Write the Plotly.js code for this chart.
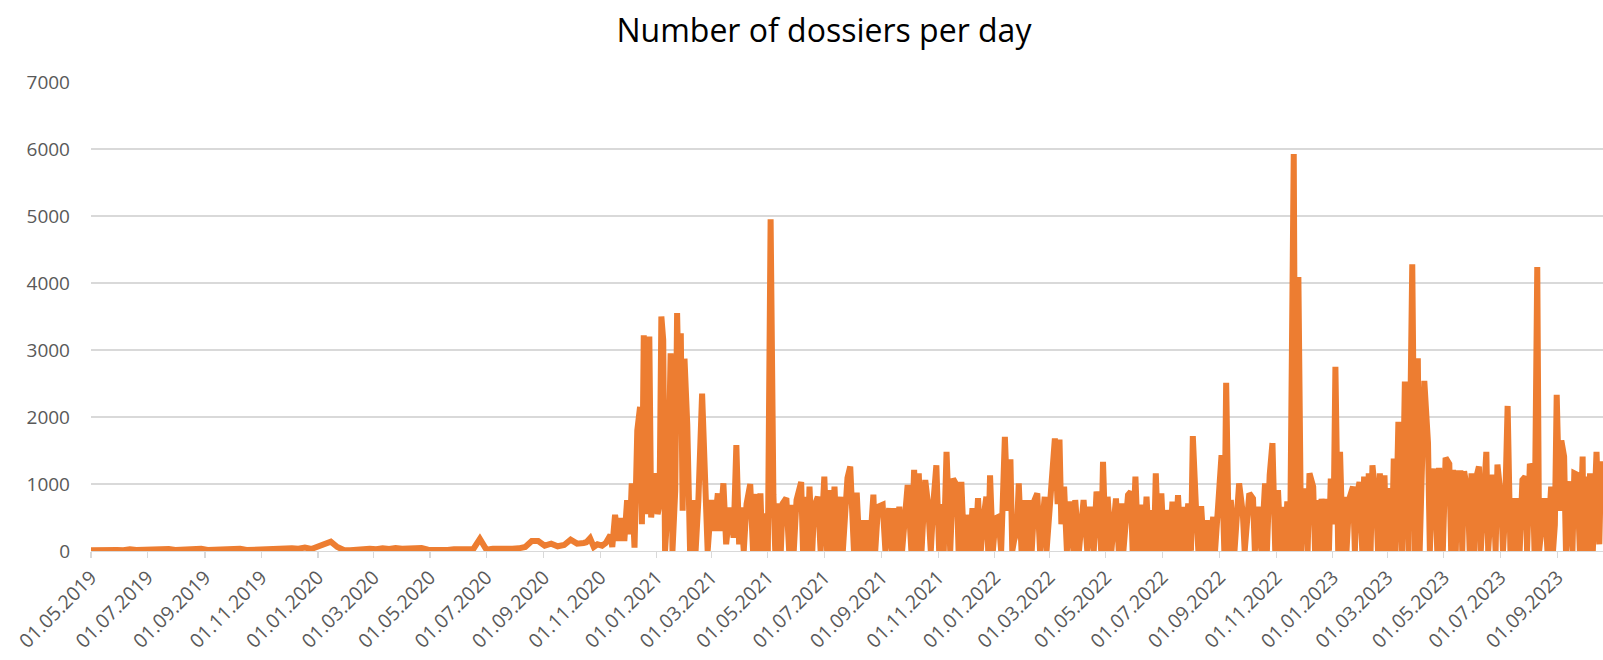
<!DOCTYPE html>
<html>
<head>
<meta charset="utf-8">
<script src="https://cdn.plot.ly/plotly-3.0.1.min.js"></script>
<style>html,body{margin:0;padding:0;background:#fff;}#chart{width:1603px;height:660px;}</style>
</head>
<body>
<div id="chart"></div>
<script>
// Days are counted from 01.05.2019
const startDate = '2019-05-01';

// Quiet period: one value per week (01.05.2019 .. end Oct 2020)
const quietWeekly = [10,15,10,20,15,10,25,15,20,15,
  30,25,30,15,20,25,20,35,15,20,
  25,30,20,35,15,20,25,20,40,35,
  45,40,35,50,30,60,90,140,60,15,
  10,20,15,35,25,40,30,45,35,40,
  25,45,20,15,20,15,25,20,35,30,
  180,20,35,30,45,35,40,60,150,150,
  80,110,70,90,170,110,120];

// Active period: days since 01.05.2019 and number of dossiers
const activeDays = [
  535,539,543,547,552,556,561,563,566,570,
  573,576,579,582,584,587,590,593,595,597,
  600,603,605,609,612,614,616,618,620,623,
  626,628,631,633,635,637,639,641,644,647,
  651,653,656,660,663,666,670,673,677,679,
  683,686,690,694,697,700,702,705,708,712,
  715,719,721,723,725,728,731,734,737,739,
  742,745,747,751,754,756,759,762,767,769,
  771,774,776,779,781,785,788,792,795,797,
  800,803,806,810,812,817,820,824,827,830,
  832,835,838,841,845,847,850,855,858,862,
  865,868,870,873,876,882,886,889,892,894,
  897,901,904,907,910,913,916,919,921,924,
  928,931,935,937,940,943,945,949,952,955,
  958,961,964,967,969,971,974,977,980,983,
  987,990,993,995,997,1000,1002,1005,1008,1011,
  1013,1016,1019,1022,1025,1030,1032,1037,1041,1044,
  1046,1048,1051,1054,1058,1061,1063,1067,1072,1076,
  1079,1083,1086,1088,1091,1093,1096,1098,1102,1107,
  1110,1113,1115,1120,1123,1125,1128,1131,1134,1137,
  1140,1143,1145,1148,1150,1153,1156,1159,1161,1165,
  1168,1171,1174,1177,1179,1182,1185,1188,1190,1194,
  1196,1199,1202,1205,1208,1212,1214,1217,1221,1224,
  1226,1229,1231,1235,1240,1244,1246,1251,1255,1257,
  1260,1264,1268,1270,1273,1276,1279,1282,1285,1287,
  1290,1292,1295,1299,1301,1304,1307,1309,1312,1314,
  1316,1320,1322,1324,1327,1329,1332,1334,1337,1339,
  1342,1344,1347,1349,1352,1354,1356,1359,1363,1365,
  1367,1370,1373,1375,1378,1380,1382,1384,1388,1390,
  1392,1395,1397,1399,1402,1405,1407,1409,1412,1416,
  1419,1423,1427,1430,1433,1435,1437,1440,1444,1446,
  1448,1451,1454,1456,1460,1463,1467,1469,1471,1474,
  1476,1479,1481,1483,1487,1489,1491,1494,1496,1499,
  1501,1503,1507,1509,1512,1514,1517,1519,1523,1525,
  1527,1530,1533,1535,1538,1540,1543,1546,1549,1551,
  1554,1557,1559,1562,1564,1566,1570,1573,1577,1579,
  1581,1583,1586,1588,1591,1593,1598,1600,1602,1605,
  1608,1611,1612,1615,1617,1619,1622,1626,1629,1631];

const activeValues = [
  130,190,60,100,80,120,240,60,540,150,
  490,150,760,250,1010,50,1800,2150,400,3220,
  550,3200,500,1160,550,700,3500,3150,0,700,
  2950,0,900,3550,2200,3250,600,2870,1880,0,
  760,0,760,2350,1000,0,760,300,860,300,
  1010,100,650,200,1580,100,650,0,700,1000,
  0,850,0,860,0,560,0,4950,840,0,
  710,0,710,790,0,690,0,760,1030,0,
  810,0,960,0,660,810,0,1110,0,910,
  0,960,0,810,0,1090,1260,0,870,0,
  460,0,460,0,840,0,660,690,0,640,
  0,640,0,660,0,985,0,1210,0,1160,
  0,1060,700,0,760,1280,0,700,0,1480,
  0,1080,980,0,1030,0,540,0,640,0,
  790,0,500,810,0,1130,0,490,510,0,
  1705,600,1370,0,160,300,1010,0,760,0,
  760,0,760,860,0,810,0,1070,1680,700,
  1665,400,960,0,740,0,760,0,760,0,
  660,0,885,760,0,1330,0,810,0,785,
  0,710,0,835,885,0,1110,0,690,0,
  810,0,610,0,1160,0,860,0,610,0,
  735,0,835,0,660,0,710,0,1715,460,
  0,670,0,460,0,510,0,610,1430,0,
  2510,0,760,0,1010,560,0,860,785,0,
  660,0,1010,0,1130,1610,0,910,0,660,
  0,740,0,5925,0,4090,0,890,890,0,
  1160,960,0,760,0,780,0,780,0,1080,
  400,2750,0,1480,0,810,0,780,960,0,
  810,1030,0,1110,0,1160,0,1280,710,0,
  1160,0,1130,0,940,0,1380,0,1930,0,
  2530,0,4280,0,2875,0,1160,2540,1610,0,
  860,1230,0,1240,0,1390,1300,0,1210,0,
  1160,1160,0,1190,860,0,1160,0,1090,1260,
  0,660,1480,0,800,1140,0,1290,760,0,
  510,2165,0,790,0,790,0,1060,1110,0,
  1300,1200,0,4240,0,360,790,0,960,0,
  390,2330,600,1650,1410,0,1040,0,1160,1140,
  0,1410,0,1110,0,1160,0,1480,100,1340];

const tickLabels = ['01.05.2019','01.07.2019','01.09.2019','01.11.2019','01.01.2020','01.03.2020',
  '01.05.2020','01.07.2020','01.09.2020','01.11.2020','01.01.2021','01.03.2021','01.05.2021',
  '01.07.2021','01.09.2021','01.11.2021','01.01.2022','01.03.2022','01.05.2022','01.07.2022',
  '01.09.2022','01.11.2022','01.01.2023','01.03.2023','01.05.2023','01.07.2023','01.09.2023'];

const endDate = '2023-10-20';
const titleText = 'Number of dossiers per day';

// ---- build ----
const DAY = 86400000;
const t0 = Date.parse(startDate + 'T00:00:00Z');
function dayToISO(d) { return new Date(t0 + d * DAY).toISOString().slice(0, 10); }

const xs = [], ys = [];
quietWeekly.forEach((v, i) => { xs.push(dayToISO(i * 7)); ys.push(v); });
const n = Math.min(activeDays.length, activeValues.length);
for (let i = 0; i < n; i++) { xs.push(dayToISO(activeDays[i])); ys.push(activeValues[i]); }

const tickVals = tickLabels.map(s => { const p = s.split('.'); return p[2] + '-' + p[1] + '-' + p[0]; });

const font = 'Open Sans, Liberation Sans, sans-serif';

Plotly.newPlot('chart', [{
  x: xs, y: ys, type: 'scatter', mode: 'lines',
  line: { color: '#ED7D31', width: 6 },
  hoverinfo: 'skip'
}], {
  width: 1603, height: 660,
  margin: { l: 91, r: 0, t: 82, b: 109 },
  paper_bgcolor: '#ffffff', plot_bgcolor: '#ffffff',
  showlegend: false,
  title: {
    text: titleText,
    font: { family: font, size: 32, color: '#000000' },
    xref: 'container', yref: 'container',
    x: 0.514, xanchor: 'center', y: 0.954, yanchor: 'middle'
  },
  xaxis: {
    type: 'date',
    range: [startDate, endDate],
    tickmode: 'array', tickvals: tickVals, ticktext: tickLabels,
    tickangle: -45,
    tickfont: { family: font, size: 19.5, color: '#595959' },
    ticks: 'outside', ticklen: 6, tickcolor: '#D9D9D9', tickwidth: 1.3,
    showline: true, linecolor: '#D9D9D9', linewidth: 1.3,
    showgrid: false, zeroline: false
  },
  yaxis: {
    range: [0, 7000], tickmode: 'linear', tick0: 0, dtick: 1000,
    tickfont: { family: font, size: 19, color: '#595959' },
    ticks: '', ticklabelstandoff: 20,
    showgrid: true, gridcolor: '#D9D9D9', gridwidth: 1.5,
    zeroline: false, showline: false
  }
}, { staticPlot: true, displayModeBar: false });
</script>
</body>
</html>
